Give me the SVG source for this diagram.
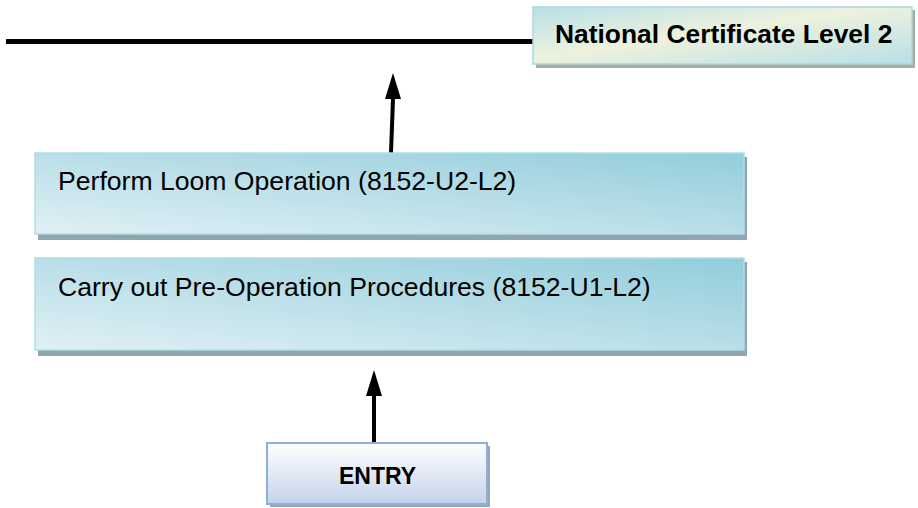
<svg xmlns="http://www.w3.org/2000/svg" width="918" height="508" viewBox="0 0 918 508">
<style>
.t{font-family:"Liberation Sans",Arial,sans-serif;fill:#000}
.reg{font-size:26.6px}
.bold{font-size:26.4px;font-weight:bold}
.shadow{fill:#8fa6ae}
.conn{stroke:#000;stroke-width:4;fill:none}
</style>
<defs>
<linearGradient id="gBlue" x1="1" y1="0" x2="0" y2="1">
<stop offset="0" stop-color="#92cddb"/>
<stop offset="1" stop-color="#e1f0f5"/>
</linearGradient>
<linearGradient id="gCream" x1="0" y1="0" x2="1" y2="1">
<stop offset="0" stop-color="#b9dfe8"/>
<stop offset="0.45" stop-color="#edf2dd"/>
<stop offset="1" stop-color="#b9dfe8"/>
</linearGradient>
<linearGradient id="gEntry" x1="0" y1="0" x2="0" y2="1">
<stop offset="0" stop-color="#ffffff"/>
<stop offset="1" stop-color="#c3d2ea"/>
</linearGradient>
</defs>

<g id="connectors">
<line x1="6" y1="41.5" x2="534" y2="41.5" stroke="#000" stroke-width="5"/>
<line class="conn" x1="391" y1="153" x2="393" y2="99"/>
<path d="M393,73 L385,99 L401,99 Z" fill="#000"/>
<line class="conn" x1="374" y1="443" x2="374" y2="395"/>
<path d="M374,370 L366,396 L382,396 Z" fill="#000"/>
</g>

<g id="node-ncl2">
<rect x="536" y="10" width="379" height="58" fill="#a8ae94"/>
<rect x="533" y="7" width="379" height="57" fill="url(#gCream)" stroke="#a9d8e4" stroke-width="1.5"/>
<text class="t bold" x="555" y="43">National Certificate Level 2</text>
</g>

<g id="node-loom">
<rect class="shadow" x="38" y="157" width="709" height="83"/>
<rect x="35" y="153" width="709" height="81" fill="url(#gBlue)" stroke="#b0dde8" stroke-width="1.5"/>
<text class="t reg" x="58" y="190">Perform Loom Operation (8152-U2-L2)</text>
</g>

<g id="node-preop">
<rect class="shadow" x="38" y="262" width="709" height="94"/>
<rect x="35" y="258" width="709" height="92" fill="url(#gBlue)" stroke="#b0dde8" stroke-width="1.5"/>
<text class="t reg" x="58" y="296">Carry out Pre-Operation Procedures (8152-U1-L2)</text>
</g>

<g id="node-entry">
<rect x="270" y="446" width="220" height="61" fill="#9aa4b4"/>
<rect x="267" y="443" width="220" height="61" fill="url(#gEntry)" stroke="#8eafd8" stroke-width="2"/>
<text class="t" x="377.5" y="484" font-size="23" font-weight="bold" text-anchor="middle">ENTRY</text>
</g>
</svg>
